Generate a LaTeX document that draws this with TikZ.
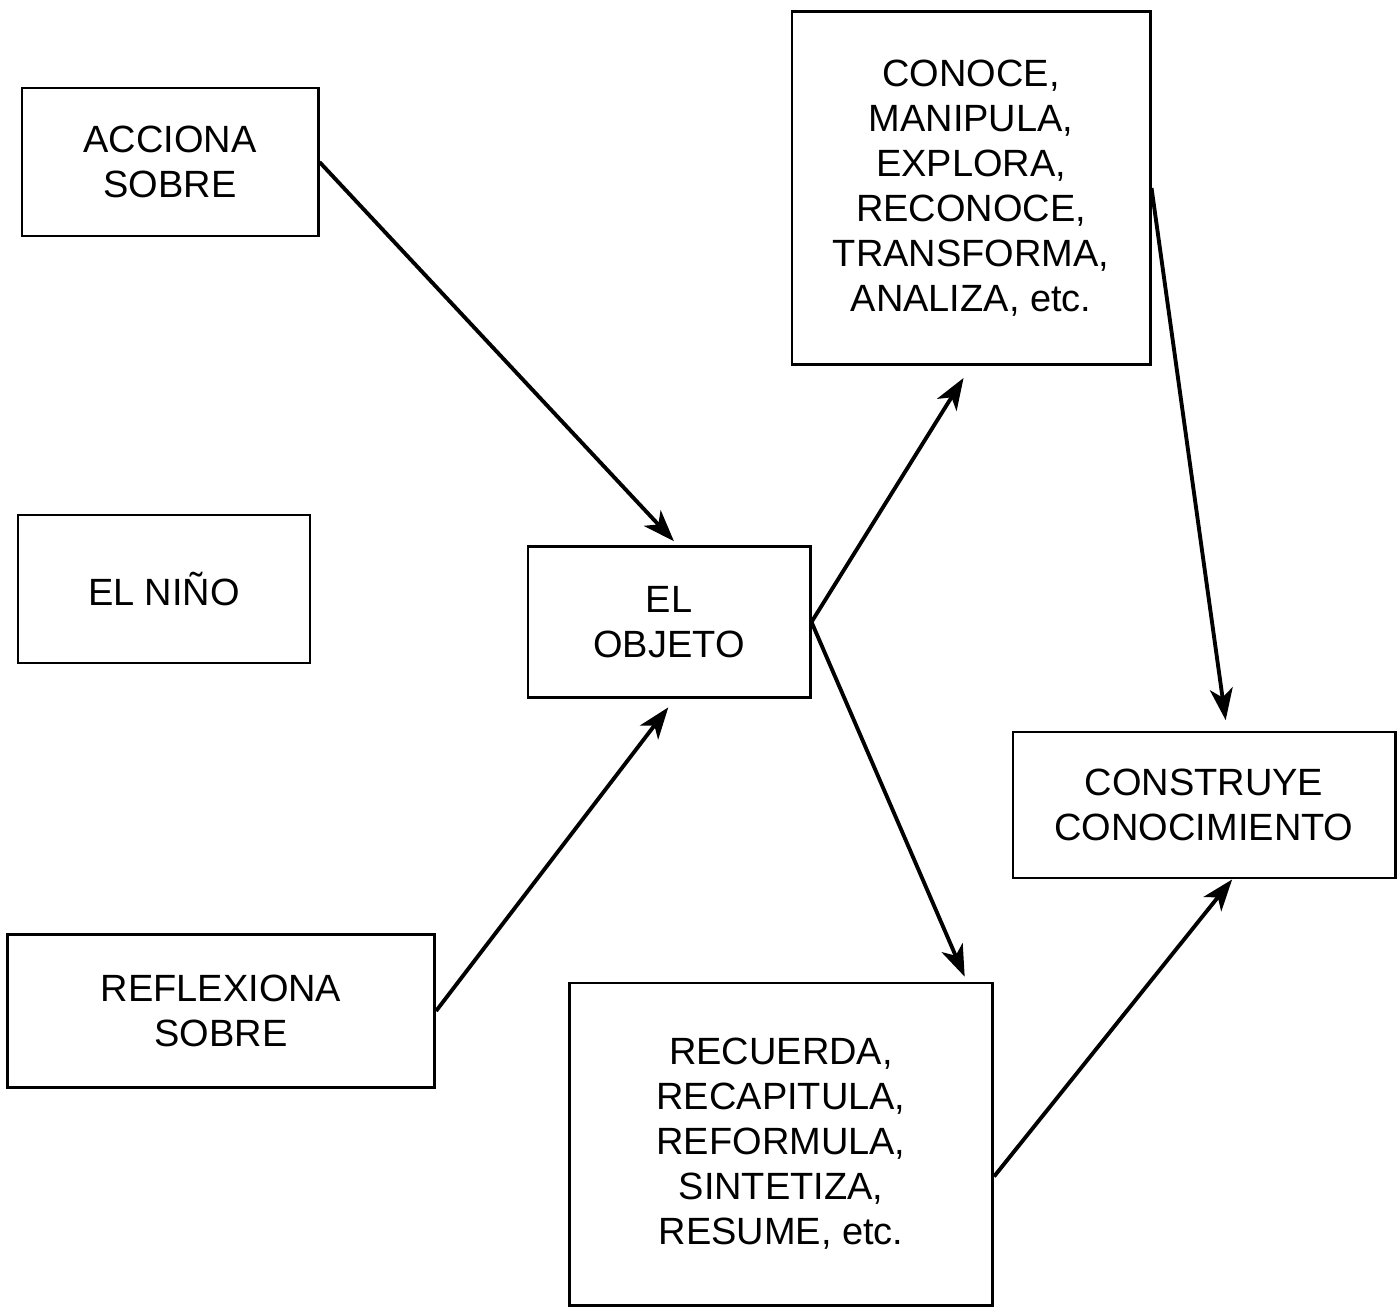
\documentclass[tikz,border=0pt]{standalone}
\usepackage{fontspec}
\setmainfont{Liberation Sans}
\usetikzlibrary{arrows.meta,calc}

\begin{document}
\begin{tikzpicture}[x=0.01cm, y=-0.01cm,
    caja/.style={draw, line width=0.8pt, align=center, inner sep=0pt, font=\fontsize{10.8}{12.8}\selectfont},
    flecha/.style={line width=1.1pt, -{Stealth[length=9pt,width=6.5pt,inset=2.5pt]}}]
    \useasboundingbox (0,0) rectangle (1398,1314);

    % columna izquierda
    \node[caja, minimum width=2.96cm, minimum height=1.48cm] (accion) at (170,162) {ACCIONA\\SOBRE};
    \node[caja, minimum width=2.92cm, minimum height=1.48cm] (nino) at (164,589) {EL NI\~NO};
    \node[caja, minimum width=4.27cm, minimum height=1.53cm] (reflexion) at (221,1011) {REFLEXIONA\\SOBRE};

    \node[caja, minimum width=2.82cm, minimum height=1.51cm] (objeto) at (669,622) {EL\\OBJETO};

    \node[caja, minimum width=3.58cm, minimum height=3.53cm] (conoce) at (971,188)
        {CONOCE,\\MANIPULA,\\EXPLORA,\\RECONOCE,\\TRANSFORMA,\\ANALIZA, etc.};
    \node[caja, minimum width=4.23cm, minimum height=3.22cm] (recuerda) at (781,1144)
        {RECUERDA,\\RECAPITULA,\\REFORMULA,\\SINTETIZA,\\RESUME, etc.};
    \node[caja, minimum width=3.82cm, minimum height=1.46cm] (construye) at (1204,805) {CONSTRUYE\\CONOCIMIENTO};

    % flechas
    \draw[flecha, shorten >=1.5pt] (accion.east) -- ($(objeto.north west)!0.53!(objeto.north east)$);
    \draw[flecha, shorten >=3pt] (reflexion.east) -- ($(objeto.south west)!0.52!(objeto.south east)$);
    \draw[flecha, shorten >=4pt] (objeto.east) -- (conoce.south);
    \draw[flecha, shorten >=1.5pt] (objeto.east) -- ($(recuerda.north west)!0.936!(recuerda.north east)$);
    \draw[flecha, shorten >=3pt] (conoce.east) -- ($(construye.north west)!0.56!(construye.north east)$);
    \draw[flecha, shorten >=0pt] ($(recuerda.north east)!0.6!(recuerda.south east)$) -- ($(construye.south west)!0.573!(construye.south east)$);
\end{tikzpicture}
\end{document}
